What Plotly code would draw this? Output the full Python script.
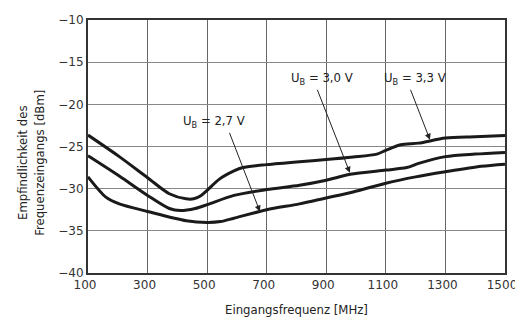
import plotly.graph_objects as go

freq_33 = [100, 205, 300, 373, 429, 455, 480, 500, 540, 590, 620, 700, 810, 900, 990, 1070, 1100, 1150, 1210, 1300, 1400, 1500]
sens_33 = [-23.65, -26.2, -28.7, -30.6, -31.2, -31.2, -30.8, -30.2, -28.9, -27.9, -27.5, -27.15, -26.8, -26.55, -26.25, -25.9, -25.45, -24.8, -24.6, -24.0, -23.85, -23.7]

freq_30 = [100, 205, 300, 373, 410, 460, 500, 590, 700, 810, 900, 980, 1100, 1170, 1210, 1300, 1400, 1500]
sens_30 = [-26.1, -28.5, -30.8, -32.35, -32.6, -32.35, -31.9, -30.8, -30.1, -29.6, -29.0, -28.3, -27.8, -27.5, -27.0, -26.2, -25.9, -25.7]

freq_27 = [100, 160, 205, 300, 430, 500, 545, 590, 700, 810, 900, 990, 1100, 1200, 1300, 1420, 1500]
sens_27 = [-28.6, -31.0, -31.8, -32.7, -33.8, -34.0, -33.9, -33.5, -32.5, -31.8, -31.1, -30.4, -29.35, -28.6, -28.0, -27.35, -27.1]

x_ticks = [100, 300, 500, 700, 900, 1100, 1300, 1500]
y_ticks = [-40, -35, -30, -25, -20, -15, -10]
y_tick_text = ["\u221240", "\u221235", "\u221230", "\u221225", "\u221220", "\u221215", "\u221210"]

labels = ["U<sub>B</sub> = 2,7 V", "U<sub>B</sub> = 3,0 V", "U<sub>B</sub> = 3,3 V"]
label_pos = [(523, -22.0), (885, -16.9), (1198, -16.9)]
arrow_tail = [(573, -23.2), (868, -18.1), (1181, -18.1)]
arrow_head = [(677, -32.7), (979, -28.1), (1248, -24.2)]

y_title = "Empfindlichkeit des<br>Frequenzeingangs [dBm]"
x_title = "Eingangsfrequenz [MHz]"

FONT = "Liberation Sans Narrow, Arial Narrow, DejaVu Sans Condensed, Liberation Sans, sans-serif"
TICKFONT = "DejaVu Sans, sans-serif"

fig = go.Figure()
for fx, sy in [(freq_33, sens_33), (freq_30, sens_30), (freq_27, sens_27)]:
    fig.add_trace(go.Scatter(x=fx, y=sy, mode="lines",
                             line=dict(color="#1a1a1a", width=3, shape="spline", smoothing=0.8),
                             showlegend=False, hoverinfo="skip"))

for lab, (tx, ty), (ax, ay), (hx, hy) in zip(labels, label_pos, arrow_tail, arrow_head):
    fig.add_annotation(x=tx, y=ty, text=lab, showarrow=False,
                       font=dict(family=FONT, size=13, color="#222"))
    fig.add_annotation(x=hx, y=hy, ax=ax, ay=ay, xref="x", yref="y", axref="x", ayref="y",
                       text="", showarrow=True, arrowhead=2, arrowsize=1.2, arrowwidth=1,
                       arrowcolor="#222")

# y-axis title placed a little below the plot centre, as in the reference
fig.add_annotation(text=y_title, xref="paper", yref="paper", x=-0.137, y=0.435,
                   xanchor="center", yanchor="middle", textangle=-90, showarrow=False,
                   font=dict(family=FONT, size=13, color="#222"))

# page body has an 8px margin: size the figure so the plot lands where the reference has it
fig.update_layout(
    width=515, height=312,
    margin=dict(l=80, r=18, t=5, b=47),
    paper_bgcolor="white", plot_bgcolor="white",
    font=dict(family=FONT, size=12, color="#222"),
)
fig.update_xaxes(range=[100, 1500], tickvals=x_ticks, ticktext=[str(v) for v in x_ticks],
                 showgrid=True, gridcolor="#666", gridwidth=1, zeroline=False,
                 showline=True, linecolor="#333", linewidth=1.5, mirror=True,
                 ticks="", tickfont=dict(family=TICKFONT, size=12, color="#333"),
                 ticklabeloverflow="allow", ticklabelshift=-3,
                 title=dict(text=x_title, font=dict(size=13), standoff=14))
fig.update_yaxes(range=[-40, -10], tickvals=y_ticks, ticktext=y_tick_text,
                 showgrid=True, gridcolor="#888", gridwidth=1, zeroline=False,
                 showline=True, linecolor="#333", linewidth=2, mirror=True,
                 ticks="", tickfont=dict(family=TICKFONT, size=12, color="#333"))

fig.write_html("out.html")
